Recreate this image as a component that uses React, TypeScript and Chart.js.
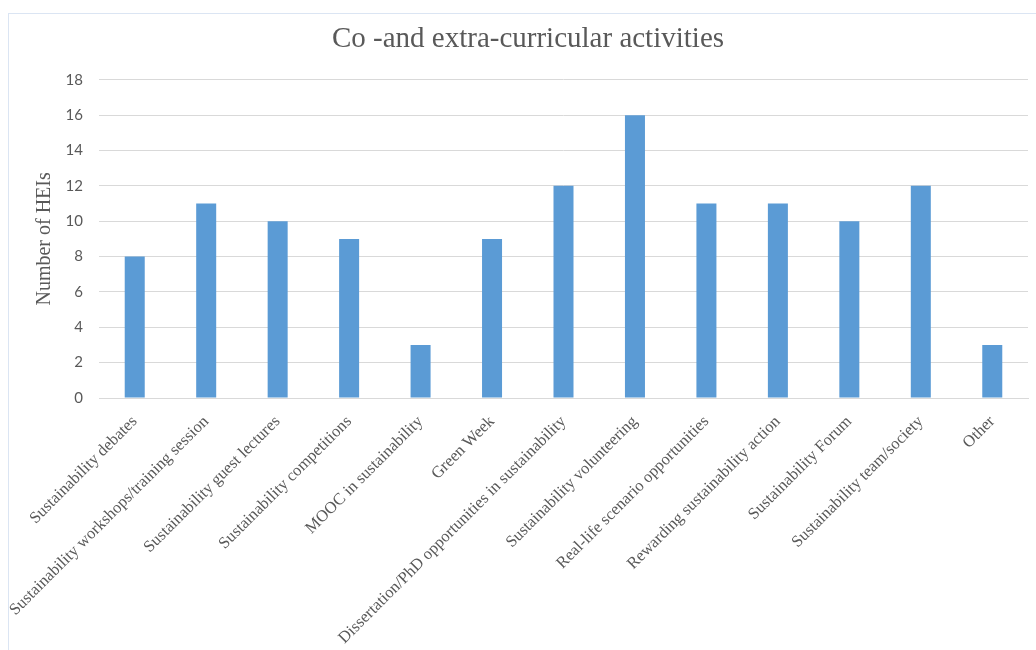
import React, { useEffect, useRef } from "react";
import { Chart, registerables } from "chart.js";

Chart.register(...registerables);

const categories: string[] = [
  "Sustainability debates",
  "Sustainability workshops/training session",
  "Sustainability guest lectures",
  "Sustainability competitions",
  "MOOC in sustainability",
  "Green Week",
  "Dissertation/PhD opportunities in sustainability",
  "Sustainability volunteering",
  "Real-life scenario opportunities",
  "Rewarding sustainability action",
  "Sustainability Forum",
  "Sustainability team/society",
  "Other",
];

const values: number[] = [8, 11, 10, 9, 3, 9, 12, 16, 11, 11, 10, 12, 3];

const chartTitle = "Co -and extra-curricular activities";
const yAxisTitle = "Number of HEIs";
const yMin = 0;
const yMax = 18;
const yStep = 2;

const W = 1036;
const H = 650;
const PAD_LEFT = 28;
const PLOT_LEFT = 99;
const PLOT_BOTTOM = 398;

export default function App() {
  const ref = useRef<HTMLCanvasElement | null>(null);

  useEffect(() => {
    if (!ref.current) return;
    const chart = new Chart(ref.current, {
      type: "bar",
      data: {
        labels: categories,
        datasets: [
          {
            label: yAxisTitle,
            data: values,
            backgroundColor: "#5B9BD5",
            borderWidth: 0,
            barPercentage: 0.28,
            categoryPercentage: 1,
          },
        ],
      },
      options: {
        responsive: false,
        animation: false,
        devicePixelRatio: 1,
        layout: { padding: { left: PAD_LEFT, right: 8, top: 0, bottom: 0 } },
        plugins: {
          legend: { display: false },
          tooltip: { enabled: false },
          title: {
            display: true,
            text: chartTitle,
            color: "#595959",
            font: { family: "'Liberation Serif', 'Times New Roman', serif", size: 29, weight: "normal" },
            padding: { top: 22, bottom: 23 },
          },
        },
        scales: {
          x: {
            grid: { display: false },
            border: { display: true, color: "#d9d9d9" },
            ticks: {
              color: "#595959",
              font: { family: "'Liberation Serif', 'Times New Roman', serif", size: 16.5 },
              minRotation: 45,
              maxRotation: 45,
              autoSkip: false,
              padding: 6,
            },
            afterFit: (scale: any) => {
              scale.height = H - PLOT_BOTTOM;
            },
          },
          y: {
            min: yMin,
            max: yMax,
            border: { display: false },
            grid: { color: "#d9d9d9", drawTicks: false },
            ticks: {
              stepSize: yStep,
              color: "#595959",
              font: { family: "Lato, 'Liberation Sans', sans-serif", size: 15 },
              padding: 16,
            },
            title: {
              display: true,
              text: yAxisTitle,
              color: "#595959",
              font: { family: "'Liberation Serif', 'Times New Roman', serif", size: 20 },
              padding: { top: 33 - PAD_LEFT, bottom: 0 },
            },
            afterFit: (scale: any) => {
              scale.width = PLOT_LEFT - PAD_LEFT;
            },
          },
        },
      },
    });
    return () => chart.destroy();
  }, []);

  return (
    <div style={{ position: "fixed", left: 0, top: 0, width: W, height: H, background: "#fff", overflow: "hidden" }}>
      <div
        style={{
          position: "absolute",
          left: 8,
          top: 13,
          width: W,
          height: H,
          borderLeft: "1px solid #dbe5f3",
          borderTop: "1px solid #dbe5f3",
        }}
      />
      <canvas ref={ref} width={W} height={H} style={{ position: "absolute", left: 0, top: 0, width: W, height: H }} />
    </div>
  );
}
